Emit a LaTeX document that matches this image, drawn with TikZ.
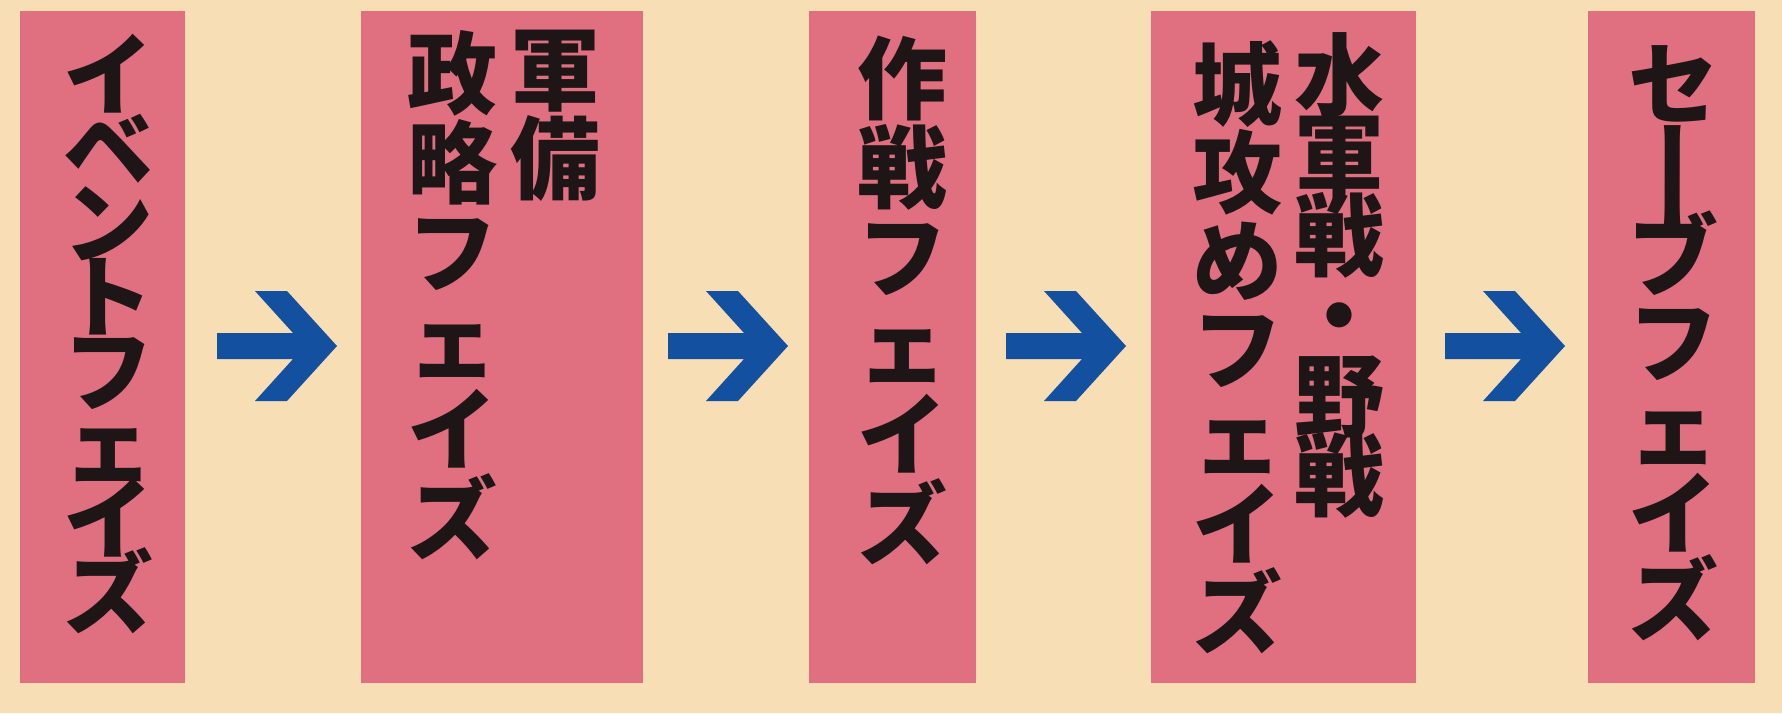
\documentclass[tikz,border=0pt]{standalone}
\usepackage{fontspec}
\newfontfamily\cjk{Noto Sans CJK JP}
\newfontfamily\cjkv[RawFeature=+vert]{Noto Sans CJK JP}
\definecolor{bg}{RGB}{247,222,180}
\definecolor{boxpink}{RGB}{224,112,128}
\definecolor{arrowblue}{RGB}{20,80,160}
\definecolor{ink}{RGB}{30,22,22}
\newcommand{\tightlines}{\lineskiplimit=-1000pt\relax}
\newcommand{\vbar}{\raisebox{-22pt}{\scalebox{1}[1.4]{\cjkv\bfseries ー}}}
\tikzset{
  phase/.style={fill=boxpink, draw=none, anchor=north west, inner sep=0pt, minimum height=672pt},
  vcol/.style={font={\cjk\bfseries\fontsize{90}{#1}\selectfont\tightlines},
               align=center, anchor=north, inner sep=0pt, text=ink},
  blockarrow/.pic={\fill[arrowblue] (0,-13) -- (76,-13) -- (38,-55) -- (70,-55) -- (120,0)
     -- (70,55) -- (38,55) -- (76,13) -- (0,13) -- cycle;}
}
\begin{document}
\begin{tikzpicture}[x=1pt,y=-1pt]
\fill[bg] (0,0) rectangle (1782,713);
\useasboundingbox (0,0) rectangle (1782,713);
% boxes
\node[phase, minimum width=165pt] (b1) at (20,11) {};
\node[phase, minimum width=282pt] (b2) at (361,11) {};
\node[phase, minimum width=167pt] (b3) at (809,11) {};
\node[phase, minimum width=265pt] (b4) at (1151,11) {};
\node[phase, minimum width=167pt] (b5) at (1588,11) {};
% texts
\node[vcol=74] (t1) at (108,34) {イ\\ベ\\ン\\ト\\フ\\ェ\\イ\\ズ};
\node[vcol=89] (t2a) at (555,30) {軍\\備};
\node[vcol=89] (t2b) at (452,30) {政\\略\\フ\\ェ\\イ\\ズ};
\node[vcol=89] (t3) at (902,36) {作\\戦\\フ\\ェ\\イ\\ズ};
\node[vcol=80] (t4a) at (1339,32) {水\\軍\\戦\\・\\野\\戦};
\node[vcol=88] (t4b) at (1237,40) {城\\攻\\め\\フ\\ェ\\イ\\ズ};
\node[vcol=86] (t5) at (1673,45) {セ\\\vbar\\ブ\\フ\\ェ\\イ\\ズ};
% arrows
\pic at (217,346) {blockarrow};
\pic at (668,346) {blockarrow};
\pic at (1006,346) {blockarrow};
\pic at (1445,346) {blockarrow};
\end{tikzpicture}
\end{document}
